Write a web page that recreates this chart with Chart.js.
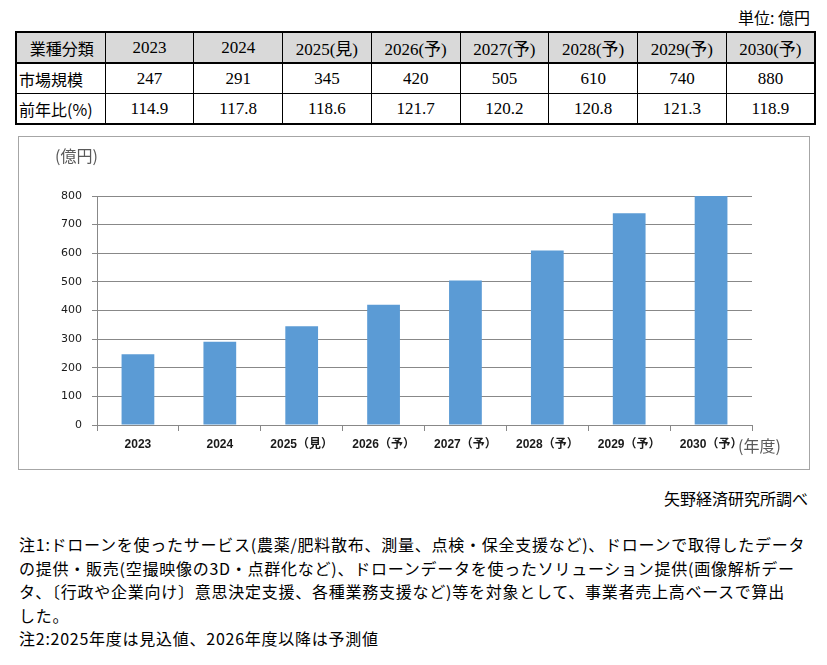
<!DOCTYPE html>
<html lang="ja">
<head>
<meta charset="utf-8">
<title>ドローンサービス市場規模</title>
<script src="https://cdn.jsdelivr.net/npm/chart.js@4"></script>
<style>
  body { margin: 0; background: #fff; font-family: "Noto Sans CJK JP", sans-serif; color: #000; }
  .page { position: relative; width: 827px; height: 665px; }
  .unit { position: absolute; right: 17px; top: 5px; font-size: 16px; }
  table { position: absolute; left: 15px; top: 31px; width: 801px; border-collapse: collapse;
          border: 2px solid #000; table-layout: fixed; }
  td { border: 1px solid #000; height: 29px; padding: 0; text-align: center;
       font-family: "Liberation Serif", "Noto Sans CJK JP", serif; font-size: 17px; }
  tr.head td { background: #d9d9d9; border-bottom: 2px solid #000; }
  td.rowname { text-align: left; padding-left: 2px; font-family: "Noto Sans CJK JP", sans-serif; font-size: 16px; }
  tr.head td.rowname { text-align: center; }
  .box { position: absolute; left: 18px; top: 136px; width: 790px; height: 332px; border: 1px solid #a6a6a6; }
  .box .wrap { position: relative; width: 790px; height: 332px; }
  .source { position: absolute; right: 19px; top: 486px; font-size: 16px; }
  .notes { position: absolute; left: 19px; top: 533px; font-size: 16px; line-height: 23.5px;
           letter-spacing: 0.75px; white-space: nowrap; }
</style>
</head>
<body>
<div class="page">
  <div class="unit">単位: 億円</div>
  <table id="dataTable"></table>
  <div class="box"><div class="wrap"><canvas id="marketChart"></canvas></div></div>
  <div class="source">矢野経済研究所調べ</div>
  <div class="notes">
    注1:ドローンを使ったサービス(農薬/肥料散布、測量、点検・保全支援など)、ドローンで取得したデータ<br>
    の提供・販売(空撮映像の3D・点群化など)、ドローンデータを使ったソリューション提供(画像解析デー<br>
    タ、〔行政や企業向け〕意思決定支援、各種業務支援など)等を対象として、事業者売上高ベースで算出<br>
    した。<br>
    注2:2025年度は見込値、2026年度以降は予測値
  </div>
</div>

<script>
// table header / chart categories
const tableYears = ['2023', '2024', '2025(見)', '2026(予)', '2027(予)', '2028(予)', '2029(予)', '2030(予)'];
const chartYears = ['2023', '2024', '2025（見）', '2026（予）', '2027（予）', '2028（予）', '2029（予）', '2030（予）'];
// market size (億円) and year-on-year ratio (%)
const marketSize = [247, 291, 345, 420, 505, 610, 740, 880];
const yoyRatio = ['114.9', '117.8', '118.6', '121.7', '120.2', '120.8', '121.3', '118.9'];
// y axis
const yMax = 800;
const yStep = 100;

// Table above the chart
function buildTable() {
  const table = document.getElementById('dataTable');
  const rows = [
    { name: '業種分類', cells: tableYears, cls: 'head' },
    { name: '市場規模', cells: marketSize, cls: '' },
    { name: '前年比(%)', cells: yoyRatio, cls: '' }
  ];
  let html = '<colgroup><col style="width:89px">' + tableYears.map(() => '<col>').join('') + '</colgroup>';
  rows.forEach(r => {
    html += `<tr class="${r.cls}"><td class="rowname">${r.name}</td>`;
    html += r.cells.map(c => `<td>${c}</td>`).join('');
    html += '</tr>';
  });
  table.innerHTML = html;
}
buildTable();

// unit labels (億円) and (年度) drawn next to the axes
const axisNotes = {
  id: 'axisNotes',
  afterDraw(chart) {
    const { ctx, chartArea } = chart;
    ctx.save();
    ctx.fillStyle = '#595959';
    ctx.font = '16px "Noto Sans CJK JP"';
    ctx.textBaseline = 'middle';
    ctx.textAlign = 'left';
    ctx.fillText('(億円)', chartArea.left - 42, chartArea.top - 40);
    ctx.font = '16px "Noto Sans CJK JP"';
    ctx.fillText('(年度)', chartArea.right - 14, chartArea.bottom + 21);
    ctx.restore();
  }
};

const ctx = document.getElementById('marketChart').getContext('2d');
new Chart(ctx, {
  type: 'bar',
  data: {
    labels: chartYears,
    datasets: [{
      data: marketSize,
      backgroundColor: '#5b9bd5',
      borderWidth: 0,
      barPercentage: 0.4,
      categoryPercentage: 1.0
    }]
  },
  options: {
    responsive: true,
    maintainAspectRatio: false,
    animation: false,
    layout: {
      padding: { top: 59, right: 57, bottom: 0, left: 0 }
    },
    plugins: {
      legend: { display: false },
      tooltip: { enabled: false }
    },
    scales: {
      x: {
        grid: {
          drawOnChartArea: false,
          drawTicks: true,
          tickLength: 6,
          color: '#888',
          offset: true
        },
        border: { color: '#888' },
        ticks: {
          color: '#1a1a1a',
          font: { family: '"Liberation Sans", "Noto Sans CJK JP"', size: 12, weight: 'bold' },
          padding: 6,
          maxRotation: 0,
          autoSkip: false
        },
        afterFit: scale => { scale.height = 44; }
      },
      y: {
        min: 0,
        max: yMax,
        grid: { color: '#888', tickLength: 5 },
        border: { color: '#888' },
        ticks: {
          stepSize: yStep,
          color: '#1a1a1a',
          font: { family: '"DejaVu Sans"', size: 11 },
          padding: 10
        },
        afterFit: scale => { scale.width = 78; }
      }
    }
  },
  plugins: [axisNotes]
});
</script>
</body>
</html>
